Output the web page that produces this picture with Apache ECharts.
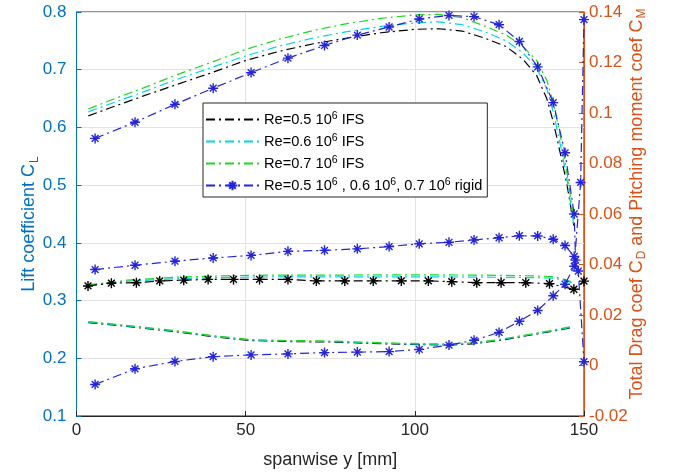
<!DOCTYPE html>
<html><head><meta charset="utf-8">
<script src="https://cdn.jsdelivr.net/npm/echarts@6/dist/echarts.min.js"></script>
<style>html,body{margin:0;padding:0;background:#fff}#c{width:687px;height:474px}</style>
</head><body><div id="c"></div>
<script>
// ---- legend / series names ----
const nameRe05 = 'Re=0.5 10^6 IFS';
const nameRe06 = 'Re=0.6 10^6 IFS';
const nameRe07 = 'Re=0.7 10^6 IFS';
const nameRigid = 'Re=0.5 10^6 , 0.6 10^6, 0.7 10^6 rigid';

// ---- axis ranges / ticks ----
const xTicks = [0, 50, 100, 150];
const leftTicks = [0.1, 0.2, 0.3, 0.4, 0.5, 0.6, 0.7, 0.8];
const rightTicks = [-0.02, 0, 0.02, 0.04, 0.06, 0.08, 0.1, 0.12, 0.14];

// ---- lift coefficient, IFS (left axis) ----
const clIfsX = [3.5, 10, 20, 30, 40, 50, 60, 70, 80, 90, 100, 107, 114, 121, 127, 132, 136, 139, 141, 143, 145, 147];
const clIfs05 = [0.620, 0.634, 0.655, 0.675, 0.695, 0.716, 0.732, 0.745, 0.755, 0.764, 0.770, 0.771, 0.767, 0.754, 0.740, 0.718, 0.690, 0.650, 0.608, 0.555, 0.500, 0.430];
const clIfs06 = [0.627, 0.641, 0.662, 0.684, 0.704, 0.724, 0.741, 0.755, 0.766, 0.775, 0.781, 0.783, 0.778, 0.765, 0.750, 0.729, 0.703, 0.667, 0.625, 0.570, 0.510, 0.430];
const clIfs07 = [0.632, 0.647, 0.669, 0.692, 0.713, 0.735, 0.753, 0.768, 0.780, 0.789, 0.795, 0.796, 0.790, 0.775, 0.760, 0.740, 0.716, 0.682, 0.642, 0.585, 0.520, 0.440];

// ---- lift coefficient, rigid (left axis) ----
const clRigidX = [5.5, 17.3, 29.1, 40.4, 51.6, 62.5, 73.3, 83.0, 92.4, 101.3, 110.1, 117.5, 124.9, 130.9, 136.3, 140.9, 144.4, 147.1, 147.5];
const clRigid = [0.581, 0.609, 0.640, 0.668, 0.695, 0.720, 0.742, 0.760, 0.774, 0.788, 0.794, 0.792, 0.778, 0.749, 0.705, 0.643, 0.556, 0.450, 0.370];

// ---- drag coefficient, IFS (right axis) ----
const cdIfsX = [3.5, 15, 30, 45, 60, 75, 90, 105, 120, 135, 141, 144, 147];
const cdIfs06 = [0.0317, 0.0334, 0.0344, 0.0349, 0.0351, 0.0351, 0.0351, 0.0351, 0.0350, 0.0348, 0.0346, 0.0338, 0.0325];
const cdIfs07 = [0.0319, 0.0338, 0.0350, 0.0356, 0.0358, 0.0358, 0.0359, 0.0359, 0.0358, 0.0355, 0.0352, 0.0342, 0.0328];
const cdIfs05X = [3.4, 10.3, 17.7, 24.6, 31.7, 38.9, 46.4, 54.1, 62.5, 70.9, 79.3, 87.7, 96.0, 104.0, 110.9, 118.3, 125.5, 132.8, 139.8, 147.0, 150];
const cdIfs05 = [0.0315, 0.0326, 0.0328, 0.0335, 0.0338, 0.0341, 0.0341, 0.0341, 0.0341, 0.0335, 0.0335, 0.0335, 0.0335, 0.0335, 0.0332, 0.0328, 0.0328, 0.0328, 0.0324, 0.0302, 0.0334];

// ---- pitching moment coefficient, IFS (right axis) ----
const cmIfsX = [3.5, 17, 29, 40, 51, 62, 75, 96, 110, 117, 125, 131, 140, 147];
const cmIfs05 = [0.0170, 0.0152, 0.0134, 0.0115, 0.0099, 0.0095, 0.0093, 0.0084, 0.0081, 0.0086, 0.0099, 0.0113, 0.0134, 0.0152];
const cmIfs06 = [0.0172, 0.0154, 0.0136, 0.0117, 0.0101, 0.0097, 0.0095, 0.0086, 0.0083, 0.0088, 0.0101, 0.0115, 0.0136, 0.0154];
const cmIfs07 = [0.0174, 0.0156, 0.0138, 0.0119, 0.0103, 0.0099, 0.0097, 0.0088, 0.0085, 0.0090, 0.0103, 0.0117, 0.0138, 0.0156];

// ---- rigid drag / moment (right axis) ----
const cdRigidX = [5.5, 17.3, 29.1, 40.4, 51.6, 62.5, 73.3, 83.0, 92.4, 101.3, 110.1, 117.5, 124.9, 130.9, 136.3, 140.9, 144.4, 147.1, 148.3, 150];
const cdRigid = [0.0380, 0.0397, 0.0413, 0.0426, 0.0436, 0.0452, 0.0456, 0.0462, 0.0471, 0.0482, 0.0488, 0.0497, 0.0506, 0.0514, 0.0513, 0.0500, 0.0475, 0.0432, 0.0374, 0.0015];
const cmRigidX = [5.5, 17.3, 29.1, 40.4, 51.6, 62.5, 73.3, 83.0, 92.4, 101.3, 110.1, 117.5, 124.9, 130.9, 136.3, 140.9, 144.4, 147.1, 149.0, 150];
const cmRigid = [-0.0075, -0.0013, 0.0016, 0.0035, 0.0042, 0.0046, 0.0051, 0.0053, 0.0055, 0.0064, 0.0081, 0.0100, 0.0131, 0.0175, 0.0218, 0.0276, 0.0322, 0.0393, 0.0725, 0.137];

// ---- styling ----
const FONT = 'Liberation Sans, Arial, Helvetica, sans-serif';
const C_LEFT = '#0072BD', C_RIGHT = '#D95319', C_AX = '#262626';
const C_BLACK = '#000000', C_CYAN = '#00d4e6', C_GREEN = '#1ed81e', C_BLUE = '#2424d8';
const DASHDOT = [9, 4, 2, 4];
const STAR = 'path://M5,0L5,10M0,5L10,5M1.6,1.6L8.4,8.4M1.6,8.4L8.4,1.6';
const HIDDEN = { color: 'rgba(0,0,0,0)', borderColor: 'rgba(0,0,0,0)', borderWidth: 0, opacity: 0 };

const pts = (xs, ys) => xs.map((x, i) => [x, ys[i]]);

function line(name, xs, ys, color, axis, withStar) {
  return {
    name, type: 'line', yAxisIndex: axis, data: pts(xs, ys),
    lineStyle: { color, width: 1.2, type: DASHDOT },
    symbol: withStar ? STAR : 'none', symbolSize: 10, showSymbol: !!withStar,
    itemStyle: { color: 'rgba(0,0,0,0)', borderColor: color, borderWidth: 1.4 },
    emphasis: { disabled: true }, silent: true, animation: false
  };
}

const legendRich = {};
legendRich[nameRe05] = '{n|Re=0.5 10}{s|6}{n| IFS}';
legendRich[nameRe06] = '{n|Re=0.6 10}{s|6}{n| IFS}';
legendRich[nameRe07] = '{n|Re=0.7 10}{s|6}{n| IFS}';
legendRich[nameRigid] = '{n|Re=0.5 10}{s|6}{n| , 0.6 10}{s|6}{n|, 0.7 10}{s|6}{n| rigid}';

const chart = echarts.init(document.getElementById('c'), null, { renderer: 'canvas' });
chart.setOption({
  backgroundColor: '#fff',
  animation: false,
  textStyle: { fontFamily: FONT },
  grid: { left: 76.5, right: 103, top: 12, bottom: 51, show: true, borderColor: C_AX, borderWidth: 1, containLabel: false },
  legend: {
    data: [
      { name: nameRe05, itemStyle: HIDDEN },
      { name: nameRe06, itemStyle: HIDDEN },
      { name: nameRe07, itemStyle: HIDDEN },
      { name: nameRigid }
    ],
    orient: 'vertical', left: 203, top: 103,
    itemWidth: 53, itemHeight: 12, itemGap: 6,
    backgroundColor: '#fff', borderColor: C_AX, borderWidth: 1, borderRadius: 0,
    padding: [8, 5, 4, 2],
    selectedMode: false,
    formatter: n => legendRich[n],
    textStyle: {
      fontFamily: FONT, color: '#000',
      rich: {
        n: { fontSize: 14.6, lineHeight: 17, fontFamily: FONT, color: '#000' },
        s: { fontSize: 10.5, lineHeight: 12, verticalAlign: 'top', fontFamily: FONT, color: '#000' }
      }
    }
  },
  xAxis: {
    type: 'value', min: xTicks[0], max: xTicks[xTicks.length - 1], interval: 50,
    name: 'spanwise y [mm]', nameLocation: 'middle', nameGap: 35, nameMoveOverlap: false,
    nameTextStyle: { fontSize: 18, color: C_AX, fontFamily: FONT },
    axisLine: { show: true, onZero: false, lineStyle: { color: C_AX, width: 1 } },
    axisTick: { show: true, inside: true, length: 5, lineStyle: { color: C_AX } },
    axisLabel: { fontSize: 17, color: C_AX, margin: 6, fontFamily: FONT },
    splitLine: { show: true, lineStyle: { color: '#e3e3e3', width: 1 } }
  },
  yAxis: [
    {
      type: 'value', position: 'left', min: leftTicks[0], max: leftTicks[leftTicks.length - 1], interval: 0.1,
      name: '{n|Lift coefficient C}{sub|L}', nameLocation: 'middle', nameRotate: 90, nameGap: 36, nameMoveOverlap: false,
      nameTextStyle: {
        color: C_LEFT, fontFamily: FONT, padding: [0, 20, 0, 0],
        rich: {
          n: { fontSize: 18, color: C_LEFT, fontFamily: FONT, lineHeight: 22 },
          sub: { fontSize: 12, color: C_LEFT, fontFamily: FONT, verticalAlign: 'bottom', lineHeight: 12, padding: [0, 0, 0, 1] }
        }
      },
      axisLine: { show: true, onZero: false, lineStyle: { color: C_LEFT, width: 1 } },
      axisTick: { show: true, inside: true, length: 5, lineStyle: { color: C_LEFT } },
      axisLabel: { fontSize: 17, color: C_LEFT, margin: 10, fontFamily: FONT, formatter: v => v.toFixed(1) },
      splitLine: { show: true, lineStyle: { color: '#e3e3e3', width: 1 } }
    },
    {
      type: 'value', position: 'right', min: rightTicks[0], max: rightTicks[rightTicks.length - 1], interval: 0.02,
      name: '{n|Total Drag coef C}{sub|D}{n| and Pitching moment coef C}{sub|M}', nameLocation: 'middle', nameRotate: 90, nameGap: 42, nameMoveOverlap: false,
      nameTextStyle: {
        color: C_RIGHT, fontFamily: FONT, padding: [0, 0, 0, 20],
        rich: {
          n: { fontSize: 18, color: C_RIGHT, fontFamily: FONT, lineHeight: 22 },
          sub: { fontSize: 12, color: C_RIGHT, fontFamily: FONT, verticalAlign: 'bottom', lineHeight: 12, padding: [0, 0, 0, 1] }
        }
      },
      axisLine: { show: true, onZero: false, lineStyle: { color: C_RIGHT, width: 1 } },
      axisTick: { show: true, inside: true, length: 5, lineStyle: { color: C_RIGHT } },
      axisLabel: { fontSize: 17, color: C_RIGHT, margin: 5, fontFamily: FONT, formatter: v => String(+v.toFixed(2)) },
      splitLine: { show: false }
    }
  ],
  series: [
    line(nameRe05, clIfsX, clIfs05, C_BLACK, 0, false),
    line(nameRe06, clIfsX, clIfs06, C_CYAN, 0, false),
    line(nameRe07, clIfsX, clIfs07, C_GREEN, 0, false),
    line(nameRigid, clRigidX, clRigid, C_BLUE, 0, true),
    line(nameRe06, cdIfsX, cdIfs06, C_CYAN, 1, false),
    line(nameRe07, cdIfsX, cdIfs07, C_GREEN, 1, false),
    line(nameRe05, cdIfs05X, cdIfs05, C_BLACK, 1, true),
    line(nameRe05, cmIfsX, cmIfs05, C_BLACK, 1, false),
    line(nameRe06, cmIfsX, cmIfs06, C_CYAN, 1, false),
    line(nameRe07, cmIfsX, cmIfs07, C_GREEN, 1, false),
    line(nameRigid, cdRigidX, cdRigid, C_BLUE, 1, true),
    line(nameRigid, cmRigidX, cmRigid, C_BLUE, 1, true)
  ]
});
</script>
</body></html>
